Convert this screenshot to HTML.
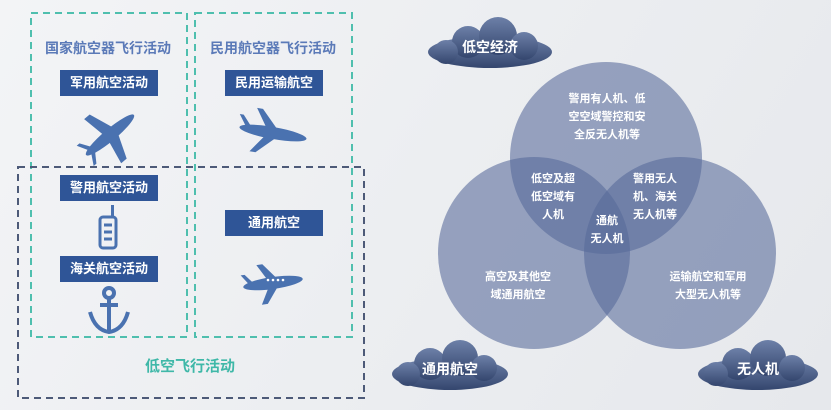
<!DOCTYPE html>
<html><head><meta charset="utf-8"><style>
html,body{margin:0;padding:0}
body{width:831px;height:410px;overflow:hidden;position:relative;background:linear-gradient(120deg,#f3f4f6 0%,#eceef1 50%,#e6e8ec 100%);font-family:"Liberation Sans","Noto Sans CJK SC",sans-serif}
.a{position:absolute}
.box{position:absolute;width:98px;height:26px;background:#2f5597;color:#fff;font-size:13px;font-weight:bold;text-align:center;line-height:26px}
.h{position:absolute;font-size:14px;font-weight:bold;color:#5b7ab8;text-align:center;width:160px}
</style></head><body>
<svg class="a" style="left:0;top:0" width="831" height="410">
<rect x="31" y="13" width="156" height="324" fill="none" stroke="#4fbfae" stroke-width="2" stroke-dasharray="7,5"/>
<rect x="195" y="13" width="157" height="324" fill="none" stroke="#4fbfae" stroke-width="2" stroke-dasharray="7,5"/>
<rect x="18" y="167" width="346" height="231" fill="none" stroke="#4d5a78" stroke-width="2" stroke-dasharray="7,5"/>
<!-- fighter plane -->
<g fill="#4a72b0" transform="translate(110,135) rotate(-40) scale(1.2)">
<ellipse cx="0" cy="0" rx="26" ry="5"/>
<polygon points="-4,-3 6,-3 -2,-24 -8,-24"/>
<polygon points="-4,3 6,3 -2,24 -8,24"/>
<polygon points="-22,-2 -18,-2 -24,-11 -27,-11"/>
<polygon points="-22,2 -18,2 -24,11 -27,11"/>
</g>
<!-- airliner -->
<g fill="#4a72b0" transform="translate(273,133) rotate(10)">
<ellipse cx="0" cy="0" rx="34" ry="6"/>
<polygon points="-6,-2 6,-2 -14,-22 -20,-22"/>
<polygon points="-6,2 6,2 -14,22 -20,22"/>
<polygon points="-28,-2 -22,-2 -32,-13 -36,-13"/>
</g>
<!-- radio -->
<g fill="none" stroke="#4a72b0" stroke-width="3">
<rect x="100" y="217" width="16" height="31" rx="3"/>
<line x1="104" y1="225" x2="112" y2="225"/><line x1="104" y1="232" x2="112" y2="232"/><line x1="104" y1="239" x2="112" y2="239"/>
</g>
<rect x="111" y="205" width="3" height="12" fill="#4a72b0"/>
<!-- anchor -->
<g fill="none" stroke="#4a72b0" stroke-width="4">
<circle cx="109" cy="293" r="5"/>
<line x1="109" y1="298" x2="109" y2="330"/>
<line x1="100" y1="305" x2="118" y2="305"/>
<path d="M90,312 Q95,330 109,332 Q123,330 128,312"/>
</g>
<!-- general plane -->
<g fill="#4a72b0" transform="translate(273,283) rotate(-8)">
<ellipse cx="0" cy="0" rx="30" ry="6"/>
<polygon points="-4,-2 6,-2 -8,-20 -14,-20"/>
<polygon points="-4,2 6,2 -8,20 -14,20"/>
<polygon points="-24,-2 -19,-2 -27,-12 -31,-12"/>
</g>
<g fill="#fff"><circle cx="268" cy="280" r="1.3"/><circle cx="273" cy="280" r="1.3"/><circle cx="278" cy="280" r="1.3"/><circle cx="283" cy="280" r="1.3"/></g>
<!-- venn -->
<g fill="#56699a" fill-opacity="0.58">
<circle cx="606" cy="158" r="96"/>
<circle cx="534" cy="253" r="96"/>
<circle cx="680" cy="253" r="96"/>
</g>
<!-- clouds -->
<defs><linearGradient id="cg" x1="0" y1="0" x2="0" y2="1"><stop offset="0" stop-color="#6d80a8"/><stop offset="1" stop-color="#34466e"/></linearGradient></defs>
<g fill="url(#cg)">
<g transform="translate(490,48)"><ellipse cx="0" cy="4" rx="62" ry="16"/><circle cx="-22" cy="-6" r="16"/><circle cx="8" cy="-12" r="19"/><circle cx="34" cy="-2" r="14"/><circle cx="-44" cy="4" r="12"/></g>
<g transform="translate(450,370)"><ellipse cx="0" cy="4" rx="58" ry="16"/><circle cx="-20" cy="-6" r="16"/><circle cx="10" cy="-12" r="18"/><circle cx="34" cy="-2" r="13"/><circle cx="-42" cy="4" r="12"/></g>
<g transform="translate(758,370)"><ellipse cx="0" cy="4" rx="60" ry="16"/><circle cx="-20" cy="-6" r="16"/><circle cx="10" cy="-12" r="18"/><circle cx="34" cy="-2" r="13"/><circle cx="-42" cy="4" r="12"/></g>
</g>
<g fill="#fff" font-family="Liberation Sans,Noto Sans CJK SC,sans-serif" font-weight="bold" text-anchor="middle">
<text x="490" y="52" font-size="14">低空经济</text>
<text x="450" y="374" font-size="14">通用航空</text>
<text x="758" y="374" font-size="14">无人机</text>
<g font-size="11">
<text x="607" y="102">警用有人机、低</text>
<text x="607" y="120">空空域警控和安</text>
<text x="607" y="138">全反无人机等</text>
<text x="553" y="182">低空及超</text>
<text x="553" y="200">低空域有</text>
<text x="553" y="218">人机</text>
<text x="655" y="182">警用无人</text>
<text x="655" y="200">机、海关</text>
<text x="655" y="218">无人机等</text>
<text x="607" y="224">通航</text>
<text x="607" y="242">无人机</text>
<text x="518" y="280">高空及其他空</text>
<text x="518" y="298">域通用航空</text>
<text x="708" y="280">运输航空和军用</text>
<text x="708" y="298">大型无人机等</text>
</g></g>
</svg>
<div class="h" style="left:28px;top:38px">国家航空器飞行活动</div>
<div class="h" style="left:193px;top:38px">民用航空器飞行活动</div>
<div class="box" style="left:60px;top:70px">军用航空活动</div>
<div class="box" style="left:225px;top:70px">民用运输航空</div>
<div class="box" style="left:60px;top:175px">警用航空活动</div>
<div class="box" style="left:225px;top:210px">通用航空</div>
<div class="box" style="left:60px;top:256px">海关航空活动</div>
<div class="a" style="left:110px;top:355px;width:160px;text-align:center;color:#3fb8a8;font-size:15px;font-weight:bold">低空飞行活动</div>
</body></html>
